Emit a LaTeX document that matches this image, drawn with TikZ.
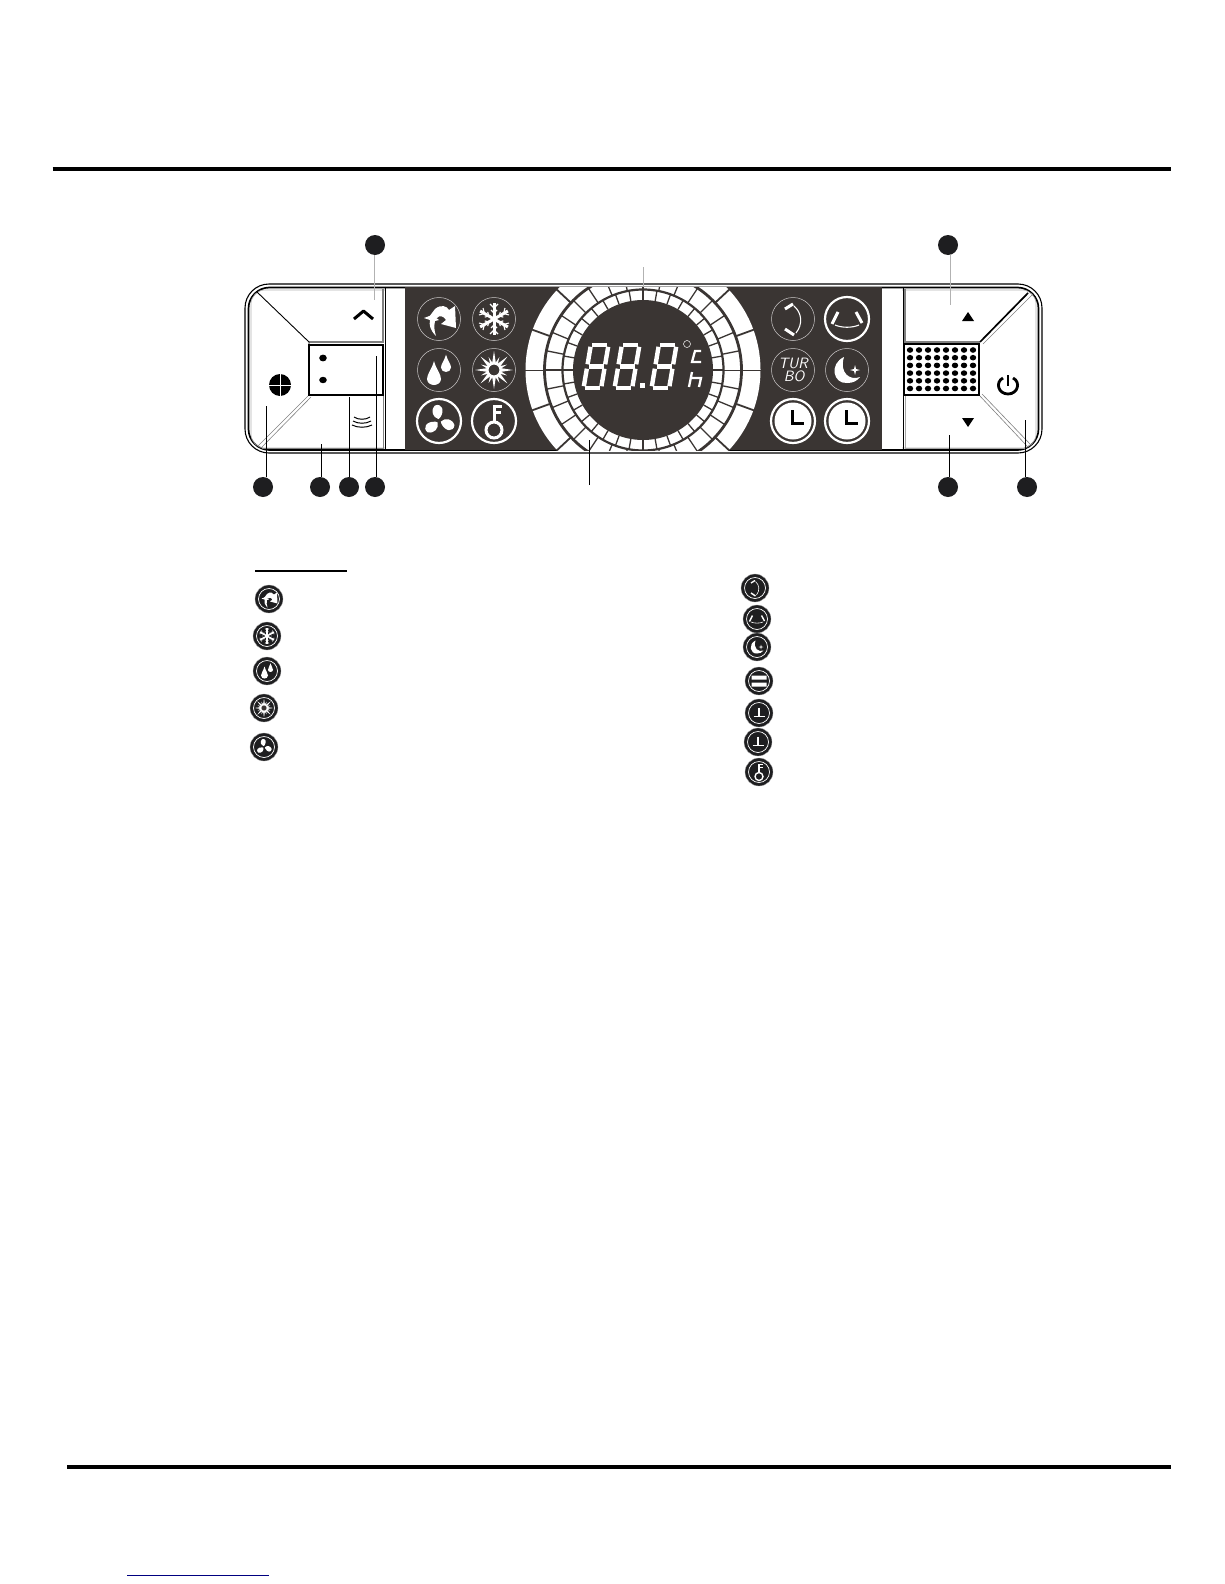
\documentclass[tikz,border=0pt]{standalone}
\definecolor{panelDark}{HTML}{3A3533}
\definecolor{calloutDark}{HTML}{1E1E20}
\definecolor{linkBlue}{HTML}{000080}
\tikzset{
  rulebar/.style={line width=4},
  callout/.style={circle,fill=calloutDark,minimum size=20,inner sep=0},
  leaderblack/.style={black,line width=.8},
  leadergray/.style={gray!60,line width=.8},
  ringthin/.style={circle,draw=white!75!panelDark,line width=.5,minimum size=43,inner sep=0},
  ringthick/.style={circle,draw=white,line width=2.2,minimum size=44,inner sep=0},
  legdisc/.style={circle,fill=calloutDark,draw=white!70!black,line width=.3,minimum size=28,inner sep=0},
  legring/.style={white,line width=.7},
  glyphthick/.style={line width=3},
  glyphthin/.style={line width=1.1},
  seg/.style={white,line width=4.4},
  iconswing/.pic={
    \fill[white] (-10,-2) -- (-4,-10) .. controls (2,-15) and (8,-13) .. (10,-9) -- (16,-13) -- (17,9) -- (2,5) -- (7,1) .. controls (5,-3) and (0,-4) .. (-2,-1) -- cycle;
    \fill[white] (-15,-1) -- (-7,-4) -- (0,1) -- (-4,2) .. controls (-5,7) and (-5,11) .. (-3,17) .. controls (-9,11) and (-10,6) .. (-9,1) -- cycle;
  },
  iconsnow/.pic={
    \foreach \a in {0,60,120}{
      \draw[white,glyphthick,rotate=\a] (0,-16) -- (0,16);
      \draw[white,glyphthin,rotate=\a] (-4,-15) -- (0,-11) -- (4,-15) (-4,15) -- (0,11) -- (4,15);
      \draw[white,glyphthin,rotate=\a] (-3,-9) -- (0,-6) -- (3,-9) (-3,9) -- (0,6) -- (3,9);
    }
  },
  icondrops/.pic={
    \fill[white,shift={(-5,4)}] (0,-13) .. controls (2,-5) and (7,0) .. (7,5) .. controls (7,9) and (3,11) .. (0,11) .. controls (-3,11) and (-7,9) .. (-7,5) .. controls (-7,0) and (-2,-5) .. cycle;
    \fill[white,shift={(7,-6)},scale=.72] (0,-13) .. controls (2,-5) and (7,0) .. (7,5) .. controls (7,9) and (3,11) .. (0,11) .. controls (-3,11) and (-7,9) .. (-7,5) .. controls (-7,0) and (-2,-5) .. cycle;
  },
  iconsun/.pic={
    \foreach \a in {0,45,...,315}{
      \fill[white,rotate=\a] (-2,-6) -- (0,-19) -- (2,-6) -- cycle;
    }
    \foreach \a in {22.5,67.5,...,337.5}{
      \fill[white,rotate=\a] (-1.5,-6) -- (0,-14) -- (1.5,-6) -- cycle;
    }
    \draw[white,fill=panelDark,glyphthin] (0,0) circle (6);
  },
  iconfan/.pic={
    \foreach \a in {15,135,255}{
      \fill[white,rotate=\a] (0,-2) .. controls (-5,-5) and (-6,-12) .. (0,-16) .. controls (7,-17) and (9,-9) .. (2,-3) -- cycle;
    }
  },
  iconkey/.pic={
    \draw[white,glyphthick] (0,9) circle (8);
    \draw[white,glyphthick] (0,1) -- (0,-15) -- (8,-15) (0,-9) -- (7,-9);
  },
  iconupdown/.pic={
    \draw[white,glyphthick] (-8,-10) -- (0,-15) (-8,10) -- (1,16);
    \draw[white,glyphthin] (1,-13) .. controls (9,-6) and (10,5) .. (3,14);
  },
  iconleftright/.pic={
    \draw[white,glyphthick] (-15,5) -- (-9,-7) (9,-7) -- (15,4);
    \draw[white,glyphthin] (-12,6) .. controls (-5,9) and (5,9) .. (12,6);
  },
  iconmoon/.pic={
    \fill[white] (-3,-13) .. controls (-18,-6) and (-14,14) .. (0,13) .. controls (6,13) and (10,11) .. (13,7) .. controls (3,11) and (-8,3) .. (-3,-13) -- cycle;
    \fill[white] (8,-5) -- (9,-1) -- (13,0) -- (9,1) -- (8,5) -- (7,1) -- (3,0) -- (7,-1) -- cycle;
  },
  iconbars/.pic={
    \fill[white] (-15,-11) rectangle (15,-3) (-15,3) rectangle (15,11);
  },
  iconclock/.pic={
    \fill[white] (0,0) circle (18.5);
    \draw[black,glyphthick] (-1,-11) -- (-1,2) -- (11,2);
  },
  iconlegclock/.pic={
    \draw[white,glyphthick] (0,-11) -- (0,6) (-11,7) -- (11,7);
  },
  segdigit/.pic={
    \begin{scope}[xslant=.17]
      \draw[seg] (3.5,2.2) -- (18.5,2.2) (3.5,23.5) -- (18.5,23.5) (3.5,44.8) -- (18.5,44.8);
      \draw[seg] (2.2,3.8) -- (2.2,21.3) (19.8,3.8) -- (19.8,21.3) (2.2,25.7) -- (2.2,43.2) (19.8,25.7) -- (19.8,43.2);
    \end{scope}
  },
}
\begin{document}
\begin{tikzpicture}[x=1pt,y=-1pt]
\useasboundingbox (0,0) rectangle (1224,1584);
\draw[rulebar] (52.5,168.5) -- (1171,168.5);
\draw[rulebar] (67,1467) -- (1171,1467);
\draw[linkBlue,line width=1] (127,1575) -- (269,1575);
\draw[line width=1.1,rounded corners=24] (245,284) rectangle (1042,453);
\draw[line width=1.7,rounded corners=21] (248.5,287.5) rectangle (1038.5,450);
\draw[gray!60,line width=.6,rounded corners=14] (251,290) rectangle (1036,448);
\fill[white] (386,288.5) rectangle (902,449.2);
\fill[panelDark] (405,287) rectangle (882,450);
\draw[line width=1] (385,287) -- (385,450) (903,287) -- (903,450);
\draw[gray,line width=1.6] (383,289) -- (383,342) -- (309,342);
\draw[gray,line width=1] (383,395) -- (383,448) -- (262,448);
\draw[gray,line width=1.6] (905,289) -- (905,342) -- (980,342);
\draw[gray!70,line width=1] (905,395) -- (905,448) -- (1026,448);
\draw[line width=.9] (257,292) -- (309,342) -- (309,395);
\draw[gray,line width=.6] (309,395) -- (258,446) (311,397) -- (261,448);
\draw[line width=1.7] (980,342) -- (1028,293);
\draw[gray,line width=.6] (983,344) -- (1032,295);
\draw[gray,line width=.6] (979,395) -- (1027,446) (982,394) -- (1030,444);
\draw[line width=1.3] (309,345) rectangle (383,395);
\fill (323,358) ellipse (3.8 and 3.4) (323,380) ellipse (3.8 and 3.2);
\draw[line width=1.4] (904,344) rectangle (979,395);
\foreach \r in {350,357.7,365.4,373.1,380.8,388.5}{
  \foreach \c in {910,919,...,973}{
    \fill (\c,\r) ellipse (3.2 and 2.8);
  }
}
\fill (280,385) circle (11);
\draw[white,line width=1] (280,373) -- (280,397) (268,385) -- (292,385);
\draw[line width=3,miter limit=1] (354,319) -- (363.5,311) -- (373,319);
\draw[line width=1] (354,417) .. controls (358,420) and (366,420) .. (370,417);
\draw[line width=1] (353,421) .. controls (358,424) and (366,424) .. (371,421);
\draw[line width=1] (352,425) .. controls (358,428) and (366,428) .. (372,425);
\fill (962,321) -- (968,312) -- (974,321) -- cycle;
\fill (962,418) -- (968,427) -- (974,418) -- cycle;
\draw[line width=2.8] (1003,378) .. controls (995,382) and (998,394) .. (1008,394) .. controls (1018,394) and (1021,382) .. (1013,378);
\draw[line width=2.8] (1008,375) -- (1008,386);
\begin{scope}[shift={(643,370)}]
  \clip (405-643,287-370) rectangle (882-643,450-370);
  \fill[white] (0,0) circle (117.5);
  \foreach \a in {20,43,137,160,200,223,317,340}{
    \draw[panelDark,line width=1.8] (\a:98) -- (\a:118);
  }
  \draw[panelDark,line width=.7] (-118,0) -- (118,0);
  \foreach \a in {11.25,22.5,...,349}{
    \draw[panelDark,line width=1.3] (\a:80) -- (\a:98);
  }
  \draw[panelDark,line width=2.8] (0,0) circle (98.5);
  \foreach \a in {0,10,...,350}{
    \draw[panelDark,line width=1.3] (\a:70) -- (\a:80);
  }
  \draw[panelDark,line width=2.2] (0,0) circle (80.5);
  \fill[panelDark] (0,0) circle (70);
\end{scope}
\pic at (589,343) {segdigit};
\pic at (620,343) {segdigit};
\pic at (657,343) {segdigit};
\fill[white] (640,383) rectangle (645,388);
\draw[white,line width=.5] (687,344) circle (3.5);
\draw[white,line width=2.3] (701,351) -- (695,351) -- (692,362) -- (701,362);
\draw[white,line width=2.3] (692,372) -- (689,387) (691,378) -- (701,378) -- (699,387);
\node[ringthin] (iconA) at (439,319) {};
\node[ringthin] (iconB) at (494,319) {};
\node[ringthin] (iconC) at (439,370) {};
\node[ringthin] (iconD) at (494,370) {};
\node[ringthick] (iconE) at (439,421) {};
\node[ringthick] (iconF) at (494,421) {};
\node[ringthin] (iconG) at (793,319) {};
\node[ringthick] (iconH) at (847,319) {};
\node[ringthin,font=\sffamily\itshape\fontsize{15}{14}\selectfont,text=white,align=center] (iconI) at (793,370) {TUR\\[-1pt]\,BO};
\node[ringthin] (iconJ) at (847,370) {};
\node[ringthick] (iconK) at (793,421) {};
\node[ringthick] (iconL) at (847,421) {};
\pic at (iconA) {iconswing};
\pic at (iconB) {iconsnow};
\pic at (iconC) {icondrops};
\pic at (iconD) {iconsun};
\pic at (iconE) {iconfan};
\pic at (iconF) {iconkey};
\pic at (iconG) {iconupdown};
\pic at (iconH) {iconleftright};
\pic at (iconJ) {iconmoon};
\pic at (iconK) {iconclock};
\pic at (iconL) {iconclock};
\node[callout] (dotA) at (375,245) {};
\node[callout] (dotB) at (948,245) {};
\node[callout] (dotC) at (263,487) {};
\node[callout] (dotD) at (320,487) {};
\node[callout] (dotE) at (349,487) {};
\node[callout] (dotF) at (375,487) {};
\node[callout] (dotG) at (948,487) {};
\node[callout] (dotH) at (1027,487) {};
\coordinate (tipA) at (374,300);
\coordinate (tipB) at (950,305);
\coordinate (tipC) at (266,406);
\coordinate (tipD) at (321,444);
\coordinate (tipE) at (349,397);
\coordinate (tipF) at (376,356);
\coordinate (tipG) at (949,435);
\coordinate (tipH) at (1025,420);
\coordinate (tipI) at (643,267);
\coordinate (tipJ) at (643,287);
\coordinate (tipK) at (589,485);
\coordinate (tipL) at (589,440);
\draw[leadergray] (tipA |- dotA.south) -- (tipA);
\draw[leadergray] (tipB |- dotB.south) -- (tipB);
\draw[leaderblack] (tipC |- dotC.north) -- (tipC);
\draw[leaderblack] (tipD |- dotD.north) -- (tipD);
\draw[leaderblack] (tipE |- dotE.north) -- (tipE);
\draw[leaderblack] (tipF |- dotF.north) -- (tipF);
\draw[leaderblack] (tipG |- dotG.north) -- (tipG);
\draw[leaderblack] (tipH |- dotH.north) -- (tipH);
\draw[leadergray] (tipI) -- (tipJ);
\draw[leaderblack] (tipK) -- (tipL);
\draw[line width=1.4] (255,571) -- (347,571);
\begin{scope}[glyphthick/.style={line width=1.4},glyphthin/.style={line width=.6}]
  \foreach \nm/\x/\y/\ic in {legA/269/599/iconswing,legB/267/636/iconsnow,legC/267/671/icondrops,legD/264/708/iconsun,legE/264/747/iconfan,legF/755/588/iconupdown,legG/757/619/iconleftright,legH/757/647/iconmoon,legI/759/681/iconbars,legJ/759/713/iconlegclock,legK/758/742/iconlegclock,legL/759/772/iconkey}{
    \node[legdisc] (\nm) at (\x,\y) {};
    \draw[legring] (\nm) circle (10.5);
    \pic[scale=.5] at (\nm) {\ic};
  }
\end{scope}
\end{tikzpicture}
\end{document}
